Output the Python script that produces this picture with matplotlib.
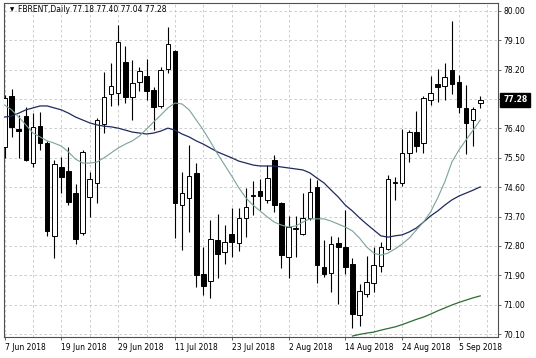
import matplotlib
matplotlib.use("Agg")
import matplotlib.pyplot as plt
import numpy as np

# FBRENT daily bars, 7 Jun 2018 .. 10 Sep 2018
opens = [75.83, 77.40, 76.38, 76.78, 75.34, 76.47, 75.95, 73.11, 75.22, 75.10,
         74.42, 73.20, 74.30, 74.73, 76.54, 77.46, 77.49, 78.44, 77.36, 77.82,
         78.01, 77.58, 77.09, 78.22, 78.77, 74.05, 74.27, 75.04, 71.94, 71.72,
         72.98, 72.61, 73.17, 72.89, 73.66, 74.33, 74.48, 74.21, 75.43, 74.12,
         72.46, 73.32, 73.17, 73.66, 74.61, 72.15, 71.97, 72.89, 72.77, 72.25,
         70.68, 71.33, 71.66, 72.19, 72.71, 74.73, 74.73, 75.65, 76.29, 75.95,
         77.27, 77.76, 77.70, 78.19, 77.82, 77.03, 76.66, 77.18]
highs = [77.43, 77.61, 76.81, 77.06, 76.87, 76.90, 76.02, 75.43, 75.53, 75.83,
         74.70, 75.74, 75.07, 76.72, 78.13, 78.41, 79.57, 78.93, 78.50, 78.28,
         78.53, 77.67, 78.28, 79.51, 78.80, 75.07, 75.89, 75.34, 72.77, 73.60,
         73.78, 73.44, 73.96, 73.96, 74.58, 74.79, 74.85, 75.28, 75.59, 74.15,
         73.72, 73.72, 74.42, 74.88, 74.82, 72.98, 73.11, 73.08, 73.90, 72.43,
         71.63, 72.49, 72.77, 72.92, 74.97, 74.91, 76.38, 76.35, 76.93, 77.40,
         78.01, 78.22, 78.41, 79.69, 78.04, 77.73, 77.06, 77.40]
lows = [75.50, 76.14, 75.50, 75.40, 75.22, 75.74, 73.11, 72.43, 74.42, 74.05,
        72.86, 73.14, 73.69, 74.12, 76.26, 77.09, 77.12, 77.18, 76.66, 77.55,
        77.27, 76.35, 77.03, 78.10, 73.04, 72.67, 73.23, 71.54, 71.30, 71.21,
        71.82, 72.25, 72.46, 72.64, 73.08, 73.75, 73.90, 74.12, 73.84, 72.12,
        71.82, 72.46, 73.14, 73.60, 71.66, 71.85, 71.39, 71.02, 71.94, 70.29,
        70.35, 71.24, 71.39, 72.00, 72.67, 74.21, 74.64, 75.37, 75.68, 75.65,
        77.12, 77.21, 77.27, 77.46, 76.87, 75.62, 75.86, 77.04]
closes = [77.33, 76.45, 76.32, 75.43, 76.45, 75.95, 73.26, 75.31, 74.91, 74.15,
          73.01, 75.68, 74.85, 76.66, 77.36, 77.70, 79.05, 77.36, 77.79, 78.16,
          77.55, 77.06, 78.19, 78.99, 74.12, 74.42, 74.94, 71.91, 71.57, 73.01,
          72.55, 72.92, 72.92, 73.66, 73.99, 74.36, 74.33, 74.88, 74.05, 72.52,
          73.38, 73.35, 73.66, 74.45, 72.22, 71.94, 72.86, 72.77, 72.15, 70.71,
          71.42, 71.69, 72.22, 72.77, 74.85, 74.76, 75.65, 76.29, 75.86, 77.33,
          77.49, 77.67, 77.98, 77.76, 77.06, 76.57, 76.99, 77.28]

# moving averages (one value per bar)
ma_slow = [76.75, 76.78, 76.87, 76.97, 77.03, 77.09, 77.09, 77.03, 76.97, 76.87,
           76.75, 76.66, 76.57, 76.51, 76.47, 76.45, 76.41, 76.35, 76.29, 76.26,
           76.23, 76.26, 76.32, 76.41, 76.35, 76.23, 76.14, 76.02, 75.92, 75.80,
           75.68, 75.59, 75.50, 75.40, 75.34, 75.28, 75.25, 75.25, 75.25, 75.22,
           75.19, 75.16, 75.13, 75.04, 74.88, 74.73, 74.51, 74.30, 74.05, 73.87,
           73.66, 73.47, 73.29, 73.11, 73.07, 73.11, 73.14, 73.23, 73.35, 73.53,
           73.72, 73.87, 74.05, 74.21, 74.33, 74.42, 74.51, 74.61]
ma_fast = [77.12, 76.97, 76.75, 76.51, 76.26, 76.14, 76.02, 75.95, 75.86, 75.68,
           75.46, 75.34, 75.34, 75.37, 75.50, 75.65, 75.80, 75.92, 76.02, 76.17,
           76.38, 76.60, 76.81, 77.03, 77.18, 77.15, 76.97, 76.66, 76.35, 75.99,
           75.62, 75.28, 74.94, 74.58, 74.27, 74.05, 73.87, 73.69, 73.53, 73.44,
           73.38, 73.41, 73.53, 73.63, 73.63, 73.63, 73.56, 73.47, 73.38, 73.26,
           73.04, 72.77, 72.58, 72.52, 72.58, 72.71, 72.86, 73.04, 73.29, 73.53,
           73.84, 74.27, 74.76, 75.37, 75.74, 76.05, 76.35, 76.66]
ma_long_start = 49
ma_long = [70.04, 70.09, 70.13, 70.16, 70.22, 70.27, 70.32, 70.39, 70.47, 70.55,
           70.62, 70.71, 70.81, 70.90, 70.99, 71.07, 71.14, 71.21, 71.27]

date_labels = ["7 Jun 2018", "19 Jun 2018", "29 Jun 2018", "11 Jul 2018", "23 Jul 2018",
               "2 Aug 2018", "14 Aug 2018", "24 Aug 2018", "5 Sep 2018"]
label_every = 8
price_ticks = [80.00, 79.10, 78.20, 77.30, 76.40, 75.50, 74.60, 73.70, 72.80, 71.90, 71.00, 70.10]
last_price = 77.28
title = "FBRENT,Daily 77.18 77.40 77.04 77.28"

plt.rcParams['font.family'] = ['DejaVu Sans']
fs = 5.5

o = np.array(opens); h = np.array(highs); l = np.array(lows); c = np.array(closes)
x = np.arange(len(o))

fig = plt.figure(figsize=(5.36, 3.58), dpi=100)
ax = fig.add_axes([4 / 536, 21 / 358, 494 / 536, 334 / 358])

# grid
for p in price_ticks:
    ax.axhline(p, color="#c4c4c4", lw=0.6, ls=(0, (3, 3)), zorder=0)
for i in range(0, 69, 4):
    ax.axvline(i, color="#c4c4c4", lw=0.6, ls=(0, (3, 3)), zorder=0)

# candles
ax.vlines(x, l, h, color="black", lw=0.8, zorder=2)
up = c >= o
ax.bar(x, np.abs(c - o), bottom=np.minimum(o, c), width=0.64,
       color=np.where(up, "white", "black"), edgecolor="black", linewidth=0.7, zorder=3)

# moving averages
ax.plot(x, ma_slow, color="#1f2a5e", lw=0.9, zorder=4)
ax.plot(x, ma_fast, color="#7aa397", lw=0.8, zorder=4)
ax.plot(np.arange(ma_long_start, ma_long_start + len(ma_long)), ma_long, color="#2f6b35", lw=0.9, zorder=4)

ax.set_xlim(-0.08, 69.5)
ax.set_ylim(70.01, 80.245)

# axes look
for s in ax.spines.values():
    s.set_color("#505050")
    s.set_linewidth(0.8)
ax.yaxis.tick_right()
ax.set_yticks(price_ticks)
ax.set_yticklabels(["" if abs(p - 77.30) < 1e-6 else f"{p:.2f}" for p in price_ticks])
ax.tick_params(axis="y", length=2.5, width=0.6, pad=1.5, labelsize=fs, colors="#505050", labelcolor="black")
ax.set_xticks(range(0, len(date_labels) * label_every, label_every))
ax.set_xticklabels(date_labels)
ax.tick_params(axis="x", length=2.5, width=0.6, pad=2, labelsize=fs, colors="#505050", labelcolor="black")
for lbl in ax.get_xticklabels():
    lbl.set_horizontalalignment("left")

# last price box
ax.annotate(f"{last_price:.2f}", xy=(1, last_price), xycoords=("axes fraction", "data"),
            xytext=(3.6, 0), textcoords="offset points", ha="left", va="center",
            fontsize=fs, color="white", fontweight="bold",
            bbox=dict(boxstyle="square,pad=0.35", fc="black", ec="black"), annotation_clip=False)

# title
ax.annotate("\u25bc", xy=(0, 1), xycoords="axes fraction", xytext=(4.3, -5), textcoords="offset points",
            ha="left", va="center", fontsize=4, color="black")
ax.annotate(title, xy=(0, 1), xycoords="axes fraction", xytext=(10.2, -5), textcoords="offset points",
            ha="left", va="center", fontsize=fs, color="black")

fig.savefig("out.png", dpi=100)
